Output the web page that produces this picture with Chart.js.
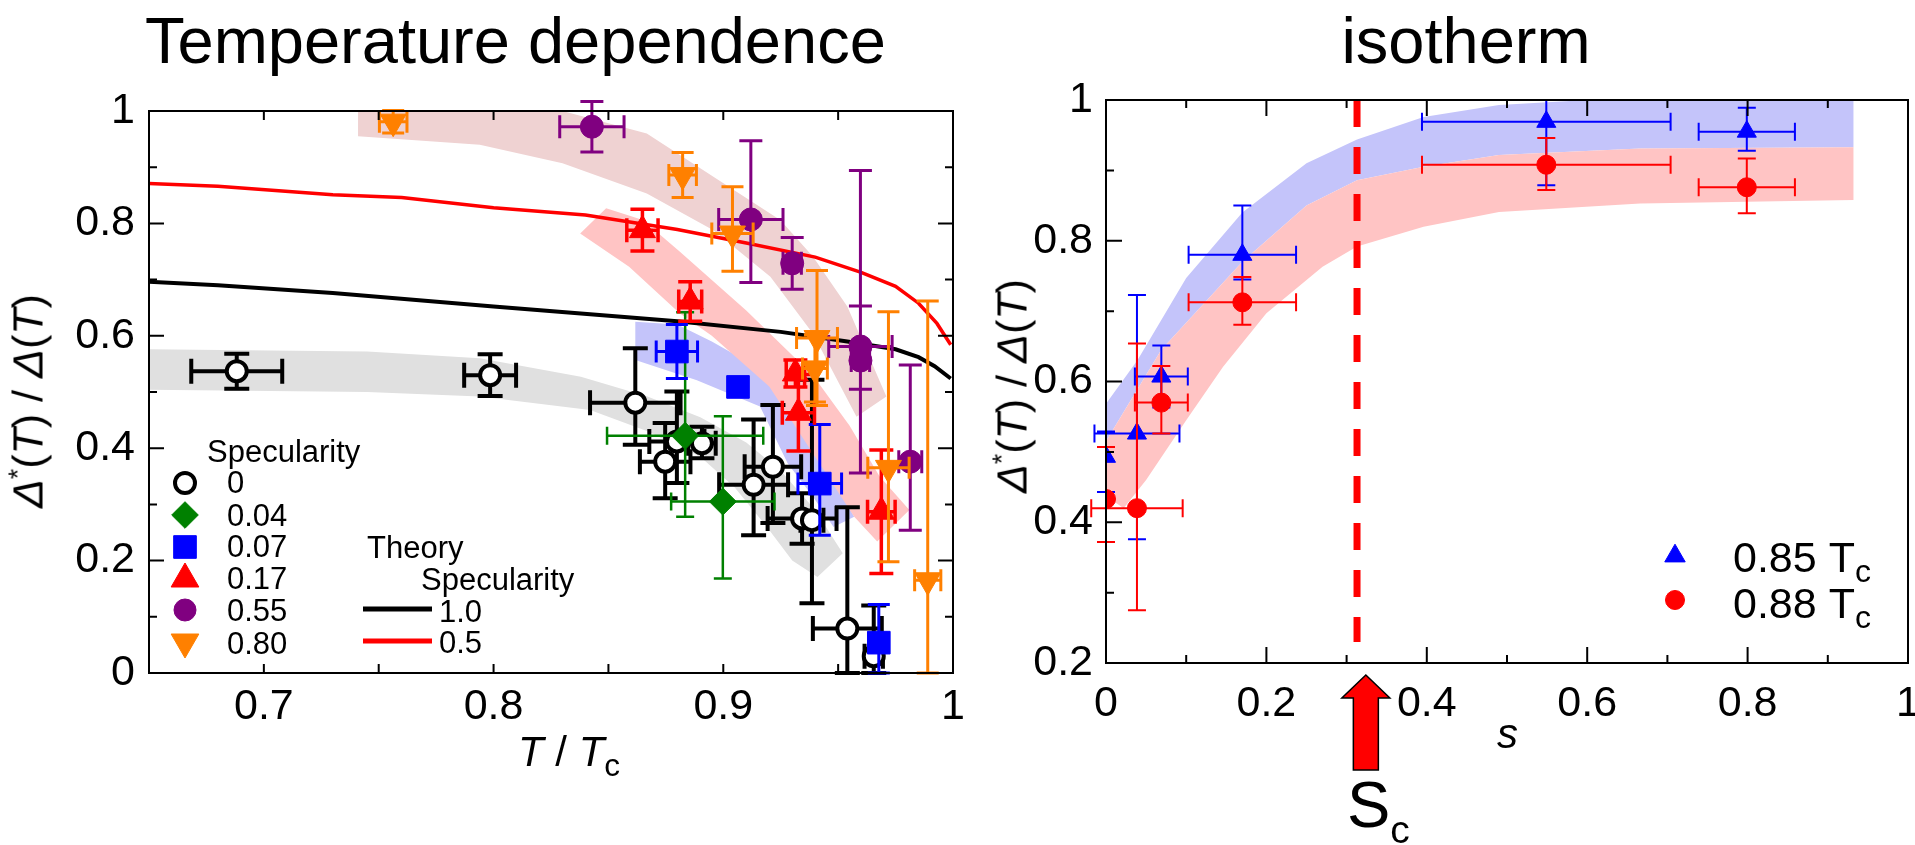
<!DOCTYPE html>
<html>
<head>
<meta charset="utf-8">
<title>Temperature dependence / isotherm</title>
<script src="https://cdn.jsdelivr.net/npm/chart.js@4.4.1/dist/chart.umd.min.js"></script>
<style>
  html, body { margin: 0; padding: 0; background: #fff; }
  body { width: 1915px; height: 845px; position: relative; overflow: hidden;
         font-family: "Liberation Sans", Arial, Helvetica, sans-serif; color: #000; }
  canvas { position: absolute; top: 0; }
  #tempChart { left: 0; }
  #isoChart { left: 990px; }
  .txt { position: absolute; white-space: nowrap; line-height: 1; }
  .rot { transform: translate(-50%, -50%) rotate(-90deg); }
  .sup { font-size: 0.62em; position: relative; top: -0.6em; }
</style>
</head>
<body>
<canvas id="tempChart" width="990" height="845"></canvas>
<canvas id="isoChart" width="945" height="845"></canvas>

<div class="txt" style="left:145px; top:8px; font-size:65px;">Temperature dependence</div>
<div class="txt" style="left:1466px; top:8px; font-size:65px; transform:translateX(-50%);">isotherm</div>

<div class="txt rot" style="left:28px; top:401px; font-size:43px;"><i>Δ</i><span class="sup">*</span>(<i>T</i>) / <i>Δ</i>(<i>T</i>)</div>
<div class="txt rot" style="left:1012px; top:386px; font-size:43px;"><i>Δ</i><span class="sup">*</span>(<i>T</i>) / <i>Δ</i>(<i>T</i>)</div>

<div class="txt" style="left:518px; top:731px; font-size:42px;"><i>T</i> / <i>T</i><span style="font-size:0.75em; position:relative; top:0.32em;">c</span></div>
<div class="txt" style="left:1497px; top:713px; font-size:42px;"><i>s</i></div>
<div class="txt" style="left:1347px; top:772px; font-size:65px;">S<span style="font-size:0.6em; position:relative; top:0.4em;">c</span></div>

<script>
const FONT = "'Liberation Sans', Arial, Helvetica, sans-serif";
Chart.defaults.font.family = FONT;
Chart.defaults.color = '#000';

// ---------- left: temperature dependence ----------
// rows: [T/Tc, Δ*/Δ, ±T err, Δ err below, Δ err above]
const spec000 = [
  [0.6882, 0.537, 0.0198, 0.031, 0.031],
  [0.7985, 0.530, 0.0113, 0.037, 0.037],
  [0.8617, 0.481, 0.0197, 0.075, 0.097],
  [0.8798, 0.412, 0.012, 0.074, 0.089],
  [0.8907, 0.409, 0.006, 0.027, 0.029],
  [0.8747, 0.376, 0.011, 0.065, 0.069],
  [0.9132, 0.335, 0.015, 0.090, 0.116],
  [0.9216, 0.367, 0.0123, 0.100, 0.110],
  [0.9343, 0.275, 0.015, 0.045, 0.045],
  [0.9386, 0.272, 0.005, 0.148, 0.250],
  [0.9540, 0.079, 0.015, 0.216, 0.216],
  [0.9655, 0.030, 0.004, 0.090, 0.090]
];
const spec004 = [
  [0.8834, 0.422, 0.034, 0.144, 0.220],
  [0.8998, 0.305, 0.0225, 0.137, 0.152]
];
const spec007 = [
  [0.8798, 0.572, 0.009, 0.048, 0.048],
  [0.9064, 0.509, 0, 0, 0],
  [0.9420, 0.337, 0.0095, 0.092, 0.105],
  [0.9677, 0.054, 0.003, 0.065, 0.068]
];
const spec017 = [
  [0.8648, 0.788, 0.0068, 0.037, 0.037],
  [0.8856, 0.661, 0.005, 0.035, 0.035],
  [0.9314, 0.533, 0.004, 0.024, 0.024],
  [0.9327, 0.463, 0.007, 0.068, 0.068],
  [0.9688, 0.287, 0.006, 0.110, 0.110]
];
const spec055 = [
  [0.8428, 0.972, 0.014, 0.045, 0.045],
  [0.9120, 0.807, 0.014, 0.112, 0.140],
  [0.9300, 0.729, 0.004, 0.046, 0.046],
  [0.9597, 0.581, 0.0138, 0.076, 0.072],
  [0.9597, 0.556, 0.004, 0.200, 0.338],
  [0.9814, 0.376, 0.005, 0.122, 0.172]
];
const spec080 = [
  [0.7563, 0.981, 0.006, 0.020, 0.020],
  [0.8823, 0.886, 0.006, 0.040, 0.040],
  [0.9040, 0.782, 0.009, 0.067, 0.083],
  [0.9408, 0.596, 0.0089, 0.120, 0.120],
  [0.9399, 0.542, 0.0054, 0.060, 0.060],
  [0.9719, 0.365, 0.009, 0.167, 0.278],
  [0.9890, 0.165, 0.0057, 0.165, 0.497]
];
const specLabels = ['0', '0.04', '0.07', '0.17', '0.55', '0.80'];

// theory curves (specularity 1.0 and 0.5)
const theory10T = [0.65, 0.68, 0.73, 0.80, 0.88, 0.925, 0.954, 0.975, 0.985, 0.992, 0.999];
const theory10D = [0.696, 0.690, 0.676, 0.652, 0.626, 0.607, 0.590, 0.576, 0.562, 0.546, 0.524];
const theory05T = [0.65, 0.68, 0.73, 0.76, 0.80, 0.84, 0.88, 0.91, 0.94, 0.96, 0.975, 0.985, 0.993, 0.999];
const theory05D = [0.871, 0.866, 0.851, 0.846, 0.828, 0.815, 0.789, 0.765, 0.740, 0.713, 0.688, 0.658, 0.622, 0.584];
const theoryLabels = ['1.0', '0.5'];

// shaded guide bands, outline points [T/Tc, Δ*/Δ]
const bandGrey = [[0.65,0.576],[0.745,0.572],[0.794,0.56],[0.838,0.527],[0.867,0.492],[0.89,0.455],[0.91,0.41],
  [0.925,0.36],[0.94,0.29],[0.952,0.213],[0.941,0.171],[0.93,0.20],[0.919,0.26],[0.905,0.33],[0.89,0.385],
  [0.867,0.43],[0.842,0.468],[0.794,0.492],[0.745,0.50],[0.65,0.504]];
const bandBlue = [[0.8617,0.625],[0.88,0.62],[0.895,0.59],[0.91,0.555],[0.925,0.50],[0.94,0.40],[0.957,0.278],
  [0.948,0.26],[0.939,0.314],[0.928,0.373],[0.916,0.474],[0.8885,0.521],[0.8617,0.557]];
const bandSalmon = [[0.8377,0.782],[0.849,0.827],[0.865,0.806],[0.881,0.75],[0.91,0.645],[0.939,0.53],[0.955,0.44],
  [0.968,0.35],[0.981,0.29],[0.967,0.234],[0.957,0.278],[0.92,0.51],[0.895,0.60],[0.881,0.64],[0.859,0.723]];
const bandPink = [[0.741,1.0],[0.794,1.0],[0.83,1.0],[0.8667,0.96],[0.8957,0.883],[0.9248,0.806],[0.939,0.741],
  [0.954,0.652],[0.971,0.492],[0.958,0.456],[0.939,0.604],[0.9205,0.705],[0.8957,0.788],[0.8667,0.853],
  [0.83,0.907],[0.794,0.94],[0.741,0.955]];

const tempTicksX = [0.7, 0.8, 0.9, 1];
const tempMinorX = [0.75, 0.85, 0.95];
const tempTicksY = [0, 0.2, 0.4, 0.6, 0.8, 1];
const tempMinorY = [0.1, 0.3, 0.5, 0.7, 0.9];

// ---------- right: isotherm ----------
// rows: [s, Δ*/Δ, ±s err, Δ err below, Δ err above]
const iso085 = [
  [0.000, 0.493, 0, 0.050, 0.036],
  [0.0386, 0.526, 0.053, 0.150, 0.197],
  [0.069, 0.607, 0.033, 0.044, 0.044],
  [0.170, 0.780, 0.067, 0.035, 0.070],
  [0.549, 0.969, 0.155, 0.090, 0.031],
  [0.799, 0.955, 0.060, 0.027, 0.034]
];
const iso088 = [
  [0.000, 0.433, 0, 0.061, 0.074],
  [0.0386, 0.420, 0.057, 0.145, 0.234],
  [0.069, 0.570, 0.033, 0.044, 0.052],
  [0.170, 0.7125, 0.067, 0.032, 0.036],
  [0.549, 0.908, 0.155, 0.036, 0.038],
  [0.799, 0.876, 0.060, 0.037, 0.041]
];
const isoLabels = ['0.85 T', '0.88 T'];
const isoBand085 = [[-0.016,0.543],[0.039,0.63],[0.1,0.747],[0.17,0.84],[0.25,0.91],[0.313,0.944],[0.396,0.976],
  [0.49,0.993],[0.6,1.0],[0.932,1.0],[0.932,0.933],[0.666,0.931],[0.49,0.922],[0.396,0.905],[0.313,0.886],
  [0.25,0.85],[0.17,0.77],[0.069,0.645],[0.0,0.515],[-0.02,0.50]];
const isoBand088 = [[-0.026,0.458],[-0.02,0.50],[0.0,0.515],[0.069,0.645],[0.17,0.77],[0.25,0.85],[0.313,0.886],
  [0.396,0.905],[0.49,0.922],[0.666,0.931],[0.932,0.933],[0.932,0.858],[0.666,0.853],[0.49,0.841],[0.396,0.82],
  [0.313,0.792],[0.27,0.763],[0.2,0.697],[0.146,0.621],[0.1,0.545],[0.05,0.46],[0.022,0.42]];
const sCritical = 0.313;
const sCriticalSpan = [1.0, 0.23];
const sArrow = 0.324;

const isoTicksX = [0, 0.2, 0.4, 0.6, 0.8, 1];
const isoMinorX = [0.1, 0.3, 0.5, 0.7, 0.9];
const isoTicksY = [0.2, 0.4, 0.6, 0.8, 1];
const isoMinorY = [0.3, 0.5, 0.7, 0.9];

// ---------- helpers ----------
const pairs = rows => rows.map(r => ({x: r[0], y: r[1]}));
const xy = (xs, ys) => xs.map((v, i) => ({x: v, y: ys[i]}));
const fmt = v => String(+Number(v).toFixed(2));

function series(rows, st) {
  return {
    data: pairs(rows),
    errs: rows.map(r => ({dx: r[2], lo: r[3], hi: r[4]})),
    showLine: false,
    pointStyle: st.shape,
    pointRadius: st.r,
    pointHoverRadius: st.r,
    pointRotation: st.rot || 0,
    pointBackgroundColor: st.fill,
    pointBorderColor: st.stroke,
    pointBorderWidth: st.bw,
    errColor: st.err,
    errWidth: st.ew,
    capHalf: st.cap
  };
}

function band(poly, color) {
  return {
    data: pairs(poly), showLine: true, fill: 'shape',
    backgroundColor: color, borderColor: 'rgba(0,0,0,0)', borderWidth: 0, pointRadius: 0
  };
}

function curve(points, color, w, dash) {
  return {
    data: points, showLine: true, fill: false, borderColor: color, borderWidth: w,
    borderDash: dash || [], pointRadius: 0, borderCapStyle: 'butt'
  };
}

function drawMarker(ctx, ds, x, y, r) {
  ctx.save();
  ctx.fillStyle = ds.pointBackgroundColor;
  ctx.strokeStyle = ds.pointBorderColor;
  ctx.lineWidth = ds.pointBorderWidth;
  ctx.beginPath();
  if (ds.pointStyle === 'circle') {
    ctx.arc(x, y, r, 0, Math.PI * 2);
  } else if (ds.pointStyle === 'rect') {
    const h = r * Math.SQRT1_2;
    ctx.rect(x - h, y - h, 2 * h, 2 * h);
  } else if (ds.pointStyle === 'rectRot') {
    ctx.moveTo(x, y - r); ctx.lineTo(x + r, y); ctx.lineTo(x, y + r); ctx.lineTo(x - r, y);
  } else {
    let a = (ds.pointRotation || 0) * Math.PI / 180;
    for (let k = 0; k < 3; k++, a += Math.PI * 2 / 3) {
      const px = x + Math.sin(a) * r, py = y - Math.cos(a) * r;
      k ? ctx.lineTo(px, py) : ctx.moveTo(px, py);
    }
  }
  ctx.closePath();
  ctx.fill();
  if (ds.pointBorderWidth) ctx.stroke();
  ctx.restore();
}

// error bars, drawn right before each series' markers
const errorBars = {
  id: 'errorBars',
  beforeDatasetDraw(chart, args) {
    const ds = chart.data.datasets[args.index];
    if (!ds.errs) return;
    const {ctx, scales: {x, y}} = chart;
    const c = ds.capHalf;
    ctx.save();
    ctx.strokeStyle = ds.errColor;
    ctx.lineWidth = ds.errWidth;
    ctx.beginPath();
    ds.data.forEach((p, i) => {
      const e = ds.errs[i];
      const px = x.getPixelForValue(p.x), py = y.getPixelForValue(p.y);
      if (e.dx > 0) {
        const x0 = x.getPixelForValue(p.x - e.dx), x1 = x.getPixelForValue(p.x + e.dx);
        ctx.moveTo(x0, py); ctx.lineTo(x1, py);
        ctx.moveTo(x0, py - c); ctx.lineTo(x0, py + c);
        ctx.moveTo(x1, py - c); ctx.lineTo(x1, py + c);
      }
      if (e.lo > 0 || e.hi > 0) {
        const y0 = y.getPixelForValue(Math.max(p.y - e.lo, y.min));
        const y1 = y.getPixelForValue(p.y + e.hi);
        ctx.moveTo(px, y0); ctx.lineTo(px, y1);
        ctx.moveTo(px - c, y0); ctx.lineTo(px + c, y0);
        ctx.moveTo(px - c, y1); ctx.lineTo(px + c, y1);
      }
    });
    ctx.stroke();
    ctx.restore();
  }
};

// boxed frame with inward ticks
function frameTicks(cfg) {
  return {
    id: 'frameTicks',
    afterDatasetsDraw(chart) {
      const {ctx, chartArea: a, scales: {x, y}} = chart;
      ctx.save();
      ctx.strokeStyle = '#000';
      ctx.lineWidth = 2;
      ctx.strokeRect(a.left, a.top, a.right - a.left, a.bottom - a.top);
      ctx.beginPath();
      const xt = (vals, len) => vals.forEach(v => {
        const px = x.getPixelForValue(v);
        ctx.moveTo(px, a.bottom); ctx.lineTo(px, a.bottom - len);
        ctx.moveTo(px, a.top); ctx.lineTo(px, a.top + len);
      });
      const yt = (vals, len) => vals.forEach(v => {
        const py = y.getPixelForValue(v);
        ctx.moveTo(a.left, py); ctx.lineTo(a.left + len, py);
        if (cfg.right) { ctx.moveTo(a.right, py); ctx.lineTo(a.right - len, py); }
      });
      xt(cfg.xMajor, cfg.xMajorLen); xt(cfg.xMinor, cfg.xMinorLen);
      yt(cfg.yMajor, cfg.yMajorLen); yt(cfg.yMinor, cfg.yMinorLen);
      ctx.stroke();
      ctx.restore();
    }
  };
}

function axes(xMin, xMax, yMin, yMax, xTicks, yTicks, xH, yW, xPad, yPad) {
  const common = {
    type: 'linear',
    grid: {display: false},
    border: {display: false},
  };
  return {
    x: Object.assign({}, common, {
      min: xMin, max: xMax,
      ticks: {font: {size: 43}, color: '#000', padding: xPad, maxRotation: 0, callback: fmt},
      afterBuildTicks: s => { s.ticks = xTicks.map(v => ({value: v})); },
      afterFit: s => { s.height = xH; }
    }),
    y: Object.assign({}, common, {
      min: yMin, max: yMax,
      ticks: {font: {size: 43}, color: '#000', padding: yPad, callback: fmt},
      afterBuildTicks: s => { s.ticks = yTicks.map(v => ({value: v})); },
      afterFit: s => { s.width = yW; }
    })
  };
}

// ---------- left chart ----------
const S_ORANGE = {shape: 'triangle', rot: 180, r: 15, fill: '#ff8000', stroke: '#ff8000', bw: 1, err: '#ff8000', ew: 3, cap: 11};
const S_PURPLE = {shape: 'circle', r: 11.5, fill: '#800080', stroke: '#800080', bw: 1, err: '#800080', ew: 3, cap: 11.5};
const S_RED = {shape: 'triangle', r: 15, fill: '#ff0000', stroke: '#ff0000', bw: 1, err: '#ff0000', ew: 3.5, cap: 12};
const S_BLUE = {shape: 'rect', r: 16, fill: '#0000ff', stroke: '#0000ff', bw: 1, err: '#0000ff', ew: 3, cap: 11};
const S_GREEN = {shape: 'rectRot', r: 13.5, fill: '#008000', stroke: '#008000', bw: 1, err: '#008000', ew: 2.5, cap: 9};
const S_OPEN = {shape: 'circle', r: 10, fill: '#ffffff', stroke: '#000000', bw: 4, err: '#000000', ew: 4, cap: 12.5};

const tempData = [
  series(spec080, S_ORANGE),
  series(spec055, S_PURPLE),
  series(spec017, S_RED),
  series(spec007, S_BLUE),
  series(spec004, S_GREEN),
  series(spec000, S_OPEN),
  curve(xy(theory05T, theory05D), '#ff0000', 3.5),
  curve(xy(theory10T, theory10D), '#000000', 4),
  band(bandPink, 'rgb(239,210,210)'),
  band(bandSalmon, 'rgb(255,196,196)'),
  band(bandBlue, 'rgb(196,196,250)'),
  band(bandGrey, 'rgb(224,224,224)')
];
const legendOrder = [5, 4, 3, 2, 1, 0];

const tempLegend = {
  id: 'tempLegend',
  afterDraw(chart) {
    const ctx = chart.ctx, ds = chart.data.datasets;
    ctx.save();
    ctx.fillStyle = '#000';
    ctx.font = '31px ' + FONT;
    ctx.textAlign = 'left';
    ctx.textBaseline = 'alphabetic';
    ctx.fillText('Specularity', 207, 462);
    const markerY = [483, 515, 547, 579, 610, 642];
    const textY = [493, 526, 557, 589, 621, 654];
    const markerR = [10, 13.3, 16, 16, 11, 16];
    legendOrder.forEach((idx, k) => {
      drawMarker(ctx, ds[idx], 185, markerY[k], markerR[k]);
      ctx.fillText(specLabels[k], 227, textY[k]);
    });
    ctx.fillText('Theory', 367, 558);
    ctx.fillText('Specularity', 421, 590);
    [7, 6].forEach((idx, k) => {
      const ly = [609, 641][k];
      ctx.strokeStyle = ds[idx].borderColor;
      ctx.lineWidth = 5;
      ctx.beginPath(); ctx.moveTo(363, ly); ctx.lineTo(432, ly); ctx.stroke();
      ctx.fillText(theoryLabels[k], 439, [622, 653][k]);
    });
    ctx.restore();
  }
};

new Chart(document.getElementById('tempChart'), {
  type: 'scatter',
  data: {datasets: tempData},
  options: {
    responsive: false,
    animation: false,
    events: [],
    layout: {padding: {left: 0, top: 111, right: 37, bottom: 0}},
    plugins: {legend: {display: false}, tooltip: {enabled: false}},
    scales: axes(0.65, 1, 0, 1, tempTicksX, tempTicksY, 172, 149, 0, 6)
  },
  plugins: [errorBars, tempLegend, frameTicks({
    xMajor: tempTicksX, xMinor: tempMinorX, yMajor: tempTicksY, yMinor: tempMinorY,
    xMajorLen: 9, xMinorLen: 9, yMajorLen: 15, yMinorLen: 8, right: true
  })]
});

// ---------- right chart ----------
const S_ISO_RED = {shape: 'circle', r: 9.5, fill: '#ff0000', stroke: '#ff0000', bw: 1, err: '#ff0000', ew: 2, cap: 9};
const S_ISO_BLUE = {shape: 'triangle', r: 11, fill: '#0000ff', stroke: '#0000ff', bw: 1, err: '#0000ff', ew: 2, cap: 9};

const isoData = [
  series(iso088, S_ISO_RED),
  series(iso085, S_ISO_BLUE),
  curve([{x: sCritical, y: sCriticalSpan[0]}, {x: sCritical, y: sCriticalSpan[1]}], '#ff0000', 7, [27, 20]),
  band(isoBand088, 'rgb(255,196,196)'),
  band(isoBand085, 'rgb(196,196,250)')
];

const isoLegend = {
  id: 'isoLegend',
  afterDraw(chart) {
    const ctx = chart.ctx, ds = chart.data.datasets;
    ctx.save();
    ctx.fillStyle = '#000';
    ctx.textAlign = 'left';
    ctx.textBaseline = 'alphabetic';
    [[1, 556, 572, 11.8], [0, 600, 618, 9.5]].forEach(([idx, my, ty, r], k) => {
      drawMarker(ctx, ds[idx], 685, my, r);
      ctx.font = '43px ' + FONT;
      ctx.fillText(isoLabels[k], 743, ty);
      const w = ctx.measureText(isoLabels[k]).width;
      ctx.font = '32px ' + FONT;
      ctx.fillText('c', 743 + w, ty + 10);
    });
    ctx.restore();
  }
};

const scArrow = {
  id: 'scArrow',
  afterDraw(chart) {
    const {ctx, scales: {x}} = chart;
    const cx = x.getPixelForValue(sArrow);
    ctx.save();
    ctx.beginPath();
    ctx.moveTo(cx, 675);
    ctx.lineTo(cx + 24, 698); ctx.lineTo(cx + 12.5, 698); ctx.lineTo(cx + 12.5, 770);
    ctx.lineTo(cx - 12.5, 770); ctx.lineTo(cx - 12.5, 698); ctx.lineTo(cx - 24, 698);
    ctx.closePath();
    ctx.fillStyle = '#ff0000';
    ctx.fill();
    ctx.strokeStyle = '#000';
    ctx.lineWidth = 1.5;
    ctx.stroke();
    ctx.restore();
  }
};

new Chart(document.getElementById('isoChart'), {
  type: 'scatter',
  data: {datasets: isoData},
  options: {
    responsive: false,
    animation: false,
    events: [],
    layout: {padding: {left: 0, top: 100, right: 27, bottom: 0}},
    plugins: {legend: {display: false}, tooltip: {enabled: false}},
    scales: axes(0, 1, 0.2, 1, isoTicksX, isoTicksY, 182, 116, 7, 5)
  },
  plugins: [errorBars, isoLegend, scArrow, frameTicks({
    xMajor: isoTicksX, xMinor: isoMinorX, yMajor: isoTicksY, yMinor: isoMinorY,
    xMajorLen: 16, xMinorLen: 8, yMajorLen: 16, yMinorLen: 8, right: false
  })]
});
</script>
</body>
</html>
